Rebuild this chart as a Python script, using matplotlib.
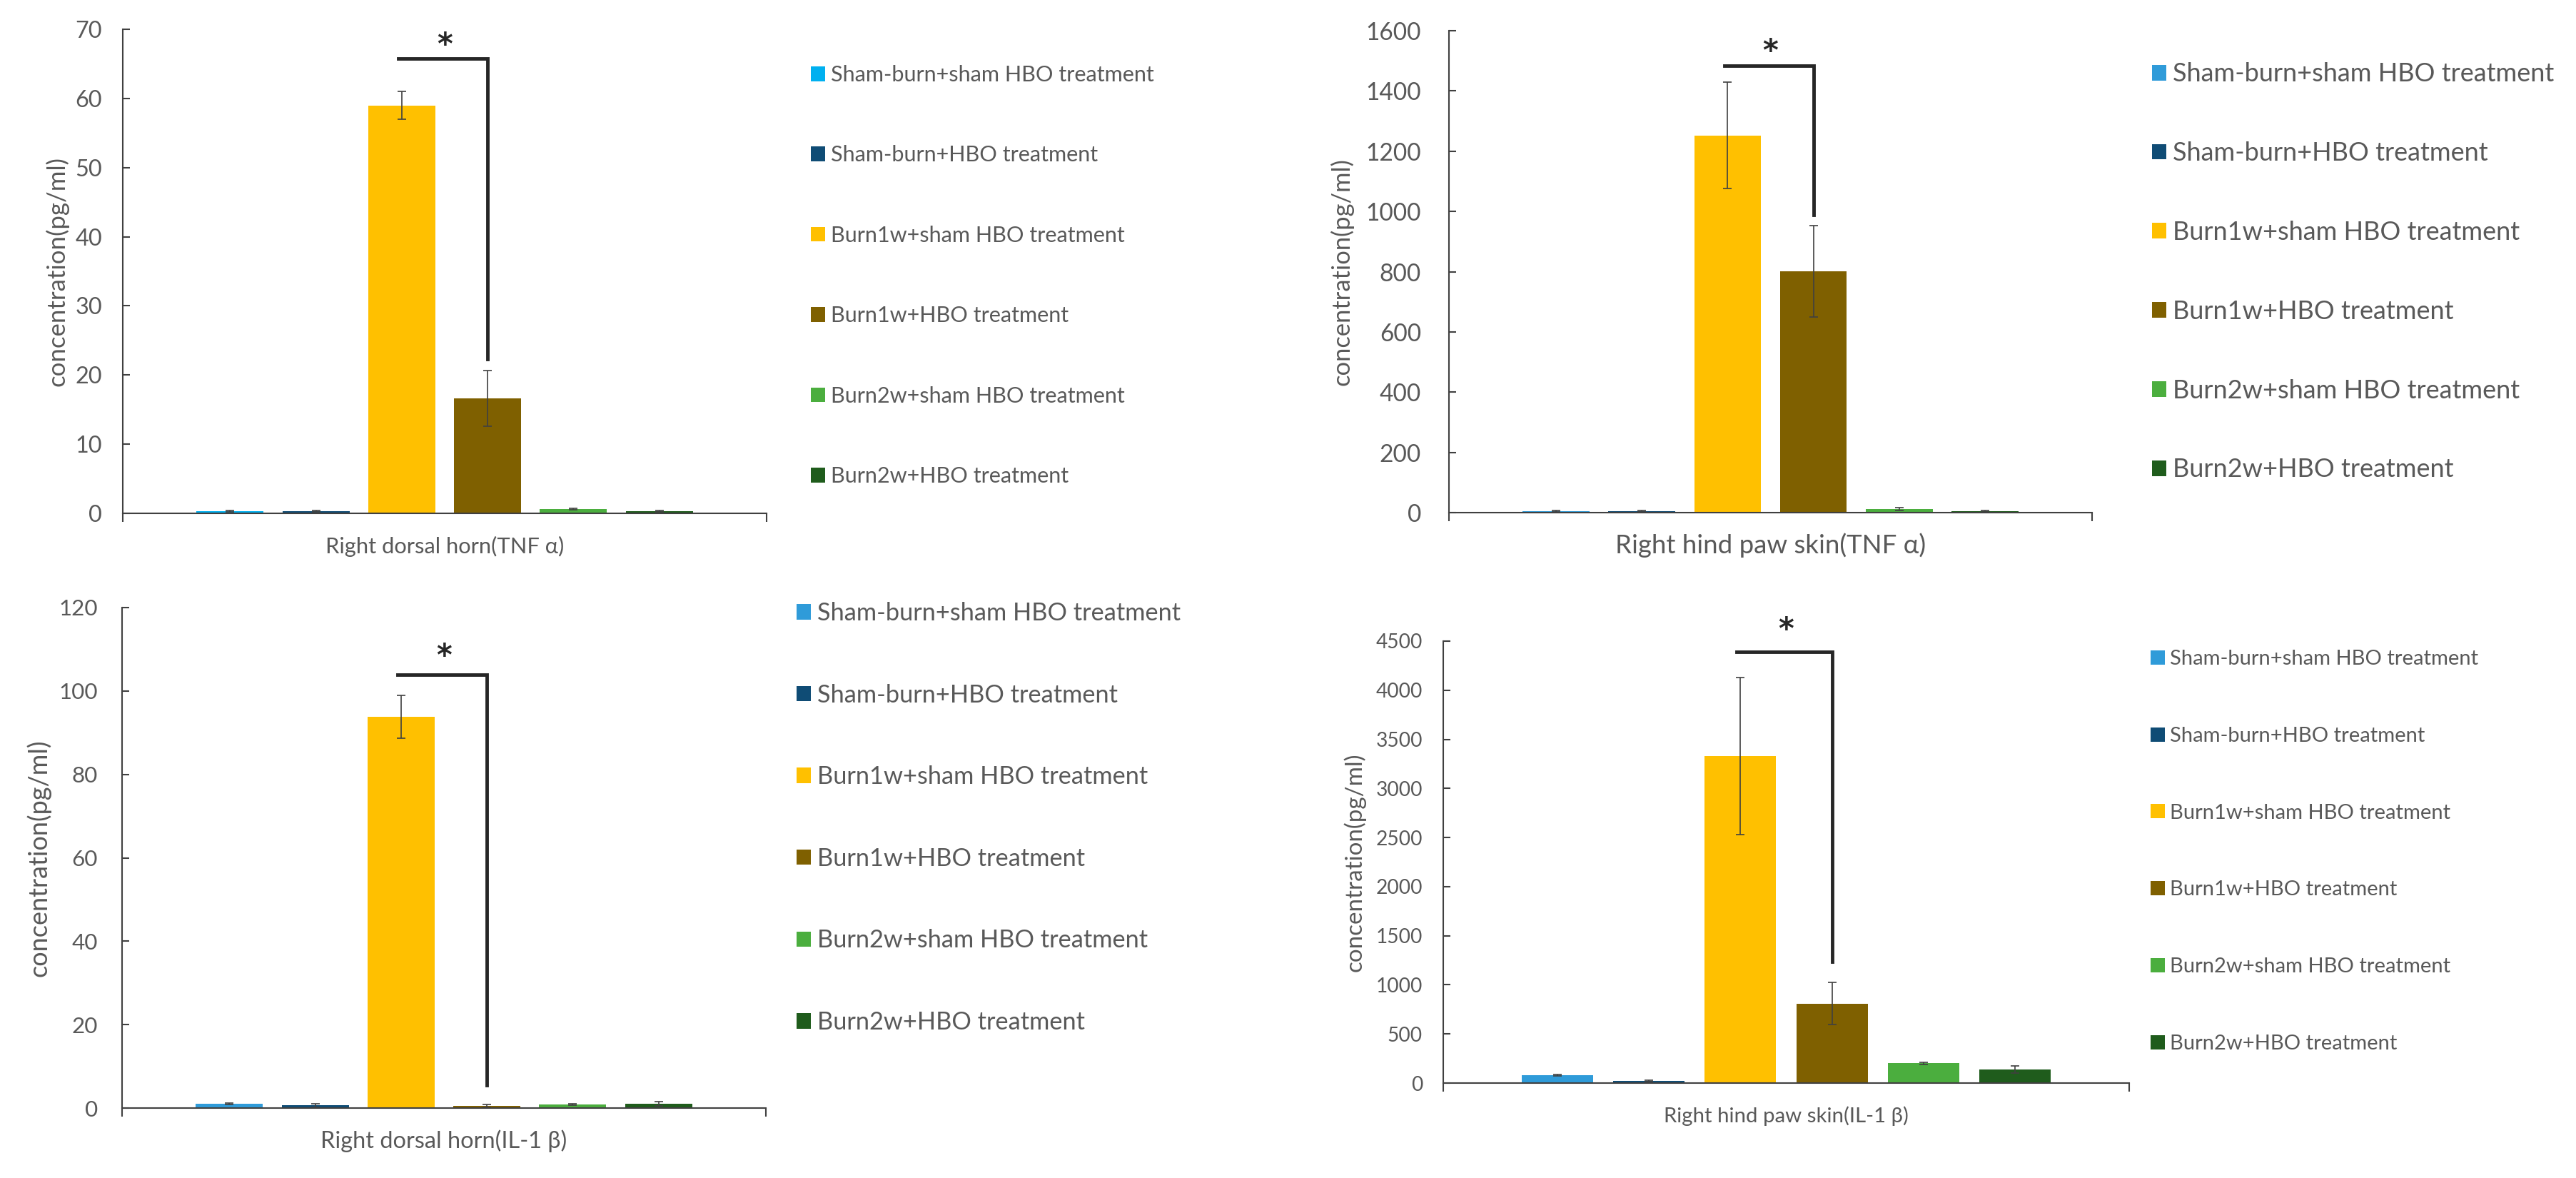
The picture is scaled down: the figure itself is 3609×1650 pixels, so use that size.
import matplotlib
matplotlib.use("Agg")
import matplotlib.pyplot as plt
from matplotlib.font_manager import FontProperties
from matplotlib.textpath import TextPath

# groups (legend order) and bar colours
groups = [
    "Sham-burn+sham HBO treatment",
    "Sham-burn+HBO treatment",
    "Burn1w+sham HBO treatment",
    "Burn1w+HBO treatment",
    "Burn2w+sham HBO treatment",
    "Burn2w+HBO treatment",
]
colors = ["#2F9BD9", "#0F4C75", "#FFC000", "#7F6000", "#4BAE3E", "#1F5C1C"]
colors_p1 = ["#00B0F0"] + colors[1:]

# values (pg/ml)
tnf_dorsal = [0.3, 0.3, 59.0, 16.6, 0.6, 0.3]
tnf_dorsal_err = [0.1, 0.1, 2.0, 4.0, 0.1, 0.1]
tnf_paw = [4, 4, 1252, 801, 12, 4]
tnf_paw_err = [2, 2, 177, 152, 5, 2]
il1_dorsal = [1.0, 0.6, 93.8, 0.5, 0.9, 1.0]
il1_dorsal_err = [0.2, 0.4, 5.2, 0.4, 0.2, 0.5]
il1_paw = [80, 20, 3330, 810, 200, 140]
il1_paw_err = [10, 8, 800, 215, 12, 35]

titles = [
    "Right dorsal horn(TNF α)",
    "Right hind paw skin(TNF α)",
    "Right dorsal horn(IL-1 β)",
    "Right hind paw skin(IL-1 β)",
]
ylims = [70, 1600, 120, 4500]
ysteps = [10, 200, 20, 500]
# significance bracket: top of bracket, bottom of the drop line, star height
brackets = [(65.8, 22.3, 67.6), (1484, 988, 1530), (103.9, 5.5, 108.2), (4393, 1235, 4610)]

W, H, DPI = 3609, 1650, 100
FONT = "Lato"
plt.rcParams["font.family"] = [FONT, "DejaVu Sans"]

GRAY = "#595959"
AX = "#404040"

# pixel layout:
# axes box (left, right, top, bottom), ylabel offset, tick label gap,
# widths of the widest tick label / ylabel / title,
# legend (square x, first row y, row spacing, first entry width)
layout = [
    dict(box=(172, 1074, 41, 719), ylab=92, pad=29, tick_w=35, ylab_w=318, title_w=330,
         leg=(1136, 105, 112.4, 452)),
    dict(box=(2030, 2931, 43, 718), ylab=150, pad=39, tick_w=74, ylab_w=316, title_w=430,
         leg=(3015, 104, 110.8, 533)),
    dict(box=(171, 1073, 851, 1552), ylab=117, pad=34, tick_w=51, ylab_w=329, title_w=340,
         leg=(1116, 859, 114.6, 508)),
    dict(box=(2022, 2983, 898, 1517), ylab=124, pad=29, tick_w=64, ylab_w=303, title_w=338,
         leg=(3013, 923, 107.8, 430)),
]
data = [
    (tnf_dorsal, tnf_dorsal_err, colors_p1),
    (tnf_paw, tnf_paw_err, colors),
    (il1_dorsal, il1_dorsal_err, colors),
    (il1_paw, il1_paw_err, colors),
]


def fit_size(text, width_px):
    w = TextPath((0, 0), text, size=10, prop=FontProperties(family=FONT)).get_extents().width
    return 10 * width_px / (w * DPI / 72)


def place_legend(fig, handles, sx, y0, gap, fs):
    fpx = fs * DPI / 72
    spacing = 0.8
    anchor = y0 - 0.6 * fpx
    for _ in range(3):
        leg = fig.legend(handles, groups, loc="upper left",
                         bbox_to_anchor=(sx / W, 1 - anchor / H),
                         frameon=False, fontsize=fs, labelcolor=GRAY,
                         borderpad=0, borderaxespad=0, handlelength=20 / fpx,
                         handleheight=20 / fpx, handletextpad=0.25,
                         labelspacing=spacing)
        fig.canvas.draw()
        ys = [(e.y0 + e.y1) / 2 for e in (t.get_window_extent() for t in leg.get_texts())]
        actual = (ys[0] - ys[-1]) / (len(ys) - 1)
        leg.remove()
        spacing += (gap - actual) / fpx
        anchor += y0 - (H - ys[0])
    return fig.legend(handles, groups, loc="upper left",
                      bbox_to_anchor=(sx / W, 1 - anchor / H),
                      frameon=False, fontsize=fs, labelcolor=GRAY,
                      borderpad=0, borderaxespad=0, handlelength=20 / fpx,
                      handleheight=20 / fpx, handletextpad=0.25,
                      labelspacing=spacing)


fig = plt.figure(figsize=(W / DPI, H / DPI), dpi=DPI)

for i, lay in enumerate(layout):
    l, r, t, b = lay["box"]
    ax = fig.add_axes([l / W, 1 - b / H, (r - l) / W, (b - t) / H])
    vals, errs, cols = data[i]
    x = list(range(len(vals)))
    bars = ax.bar(x, vals, width=0.78, color=cols, yerr=errs,
                  error_kw=dict(ecolor=AX, elinewidth=1.2, capsize=4.5, capthick=1.2))
    ax.set_xlim(-1.25, len(vals) + 0.25)
    ax.set_ylim(0, ylims[i])
    ax.set_yticks(range(0, ylims[i] + 1, ysteps[i]))
    ax.set_xticks([-1.25, len(vals) + 0.25])
    ax.set_xticklabels([])
    ax.tick_params(axis="y", direction="in", length=7, width=1.5, colors=AX,
                   labelcolor=GRAY, labelsize=fit_size(str(ylims[i]), lay["tick_w"]),
                   pad=lay["pad"] * 72 / DPI)
    ax.tick_params(axis="x", direction="out", length=8.5, width=1.5, colors=AX)
    for s in ["top", "right"]:
        ax.spines[s].set_visible(False)
    for s in ["left", "bottom"]:
        ax.spines[s].set_color(AX)
        ax.spines[s].set_linewidth(1.5)

    hpx = b - t
    ax.text(0.5, -46 / hpx, titles[i], transform=ax.transAxes, ha="center",
            va="center", color=GRAY, fontsize=fit_size(titles[i], lay["title_w"]))
    ylab = "concentration(pg/ml)"
    ax.text(-lay["ylab"] / (r - l), 0.5, ylab, transform=ax.transAxes,
            rotation=90, ha="center", va="center", color=GRAY,
            fontsize=fit_size(ylab, lay["ylab_w"]))

    top, low, star = brackets[i]
    ax.plot([1.96, 3.0, 3.0], [top, top, low], color="#262626", lw=3.5,
            solid_joinstyle="miter", clip_on=False)
    ax.text(2.5, star, "*", ha="center", va="center", fontsize=30,
            family="DejaVu Sans", fontweight="bold", color="#262626", clip_on=False)

    sx, y0, gap, tw = lay["leg"]
    place_legend(fig, bars, sx, y0, gap, fit_size(groups[0], tw))

fig.savefig("out.png", dpi=DPI)
